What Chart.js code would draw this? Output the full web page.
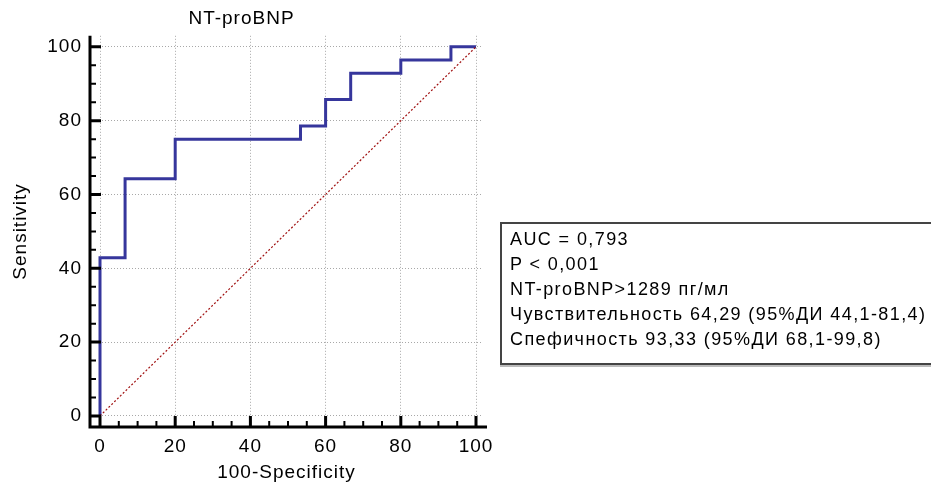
<!DOCTYPE html>
<html>
<head>
<meta charset="utf-8">
<script src="https://cdn.jsdelivr.net/npm/chart.js@4"></script>
<style>
    html, body { margin: 0; padding: 0; background: #fff; }
    #wrap { position: relative; width: 931px; height: 486px; overflow: hidden; }
    #stats {
        position: absolute; left: 500px; top: 222px; width: 440px; height: 136px;
        border: 2px solid #444; box-shadow: 0 2px 0 #bbb;
        padding: 3px 0 0 8px; box-sizing: content-box;
        font: 18px "Liberation Sans", Arial, sans-serif; line-height: 25px; color: #000;
        letter-spacing: 1.4px; white-space: nowrap;
    }
</style>
</head>
<body>
<div id="wrap">
    <canvas id="rocChart" width="931" height="486"></canvas>
    <div id="stats"></div>
</div>
<script>
// ROC points (100-Specificity, Sensitivity)
const fpr = [0, 0, 6.67, 20, 53.33, 60, 66.67, 80, 93.33, 100];
const tpr = [0, 42.86, 64.29, 75, 78.57, 85.71, 92.86, 96.43, 100, 100];

// reference diagonal
const diagX = [0, 100];
const diagY = [0, 100];

const xTicks = [0, 20, 40, 60, 80, 100];
const yTicks = [0, 20, 40, 60, 80, 100];

const statLines = [
    'AUC = 0,793',
    'P < 0,001',
    'NT-proBNP>1289 пг/мл',
    'Чувствительность 64,29 (95%ДИ 44,1-81,4)',
    'Спефичность 93,33 (95%ДИ 68,1-99,8)'
];

document.getElementById('stats').innerHTML = statLines.map(s => '<div>' + s + '</div>').join('');

const FONT = '"Liberation Sans", Arial, sans-serif';

// the original text is a bit wider than Arial, add some spacing
const spacingPlugin = {
    id: 'spacingPlugin',
    beforeLayout(chart) { chart.ctx.letterSpacing = '1px'; },
    beforeDraw(chart) { chart.ctx.letterSpacing = '1px'; }
};

// axis lines and major/minor ticks sit in the gap between axis and data
const axisPlugin = {
    id: 'axisPlugin',
    afterDraw(chart) {
        const ctx = chart.ctx;
        const area = chart.chartArea;
        const xs = chart.scales.x;
        const ys = chart.scales.y;
        ctx.save();
        ctx.strokeStyle = '#000';
        ctx.lineWidth = 3;
        ctx.beginPath();
        ctx.moveTo(area.left, area.top);
        ctx.lineTo(area.left, area.bottom + 1.5);
        ctx.moveTo(area.left - 1.5, area.bottom);
        ctx.lineTo(area.right + 4, area.bottom);
        ctx.stroke();
        for (let v = 0; v <= 100; v += 5) {
            const major = v % 20 === 0;
            const len = major ? 11 : 6;
            ctx.lineWidth = major ? 3 : 2;
            const px = xs.getPixelForValue(v);
            const py = ys.getPixelForValue(v);
            ctx.beginPath();
            ctx.moveTo(px, area.bottom);
            ctx.lineTo(px, area.bottom - len);
            ctx.moveTo(area.left, py);
            ctx.lineTo(area.left + len, py);
            ctx.stroke();
        }
        ctx.restore();
    }
};

const ctx = document.getElementById('rocChart').getContext('2d');

new Chart(ctx, {
    type: 'scatter',
    data: {
        datasets: [{
            label: 'diagonal',
            data: diagX.map((x, i) => ({ x: x, y: diagY[i] })),
            showLine: true,
            borderColor: '#a01010',
            borderWidth: 1.2,
            borderDash: [2, 2],
            pointRadius: 0
        }, {
            label: 'NT-proBNP',
            data: fpr.map((x, i) => ({ x: x, y: tpr[i] })),
            showLine: true,
            stepped: 'before',
            borderColor: '#36369c',
            borderWidth: 3,
            pointRadius: 0
        }]
    },
    options: {
        responsive: false,
        animation: false,
        layout: { padding: { left: 0, right: 448, top: 0, bottom: 0 } },
        plugins: {
            legend: { display: false },
            tooltip: { enabled: false },
            title: {
                display: true,
                text: 'NT-proBNP',
                color: '#000',
                font: { family: FONT, size: 19, weight: 'normal' },
                padding: { top: 7, bottom: 6 }
            }
        },
        scales: {
            x: {
                type: 'linear',
                min: -2.66,
                max: 101.86,
                afterBuildTicks: s => { s.ticks = xTicks.map(v => ({ value: v })); },
                afterFit: s => { s.height = 59; },
                border: { display: false, dash: [1, 2] },
                grid: { color: '#a8a8a8', drawTicks: false, lineWidth: 1 },
                ticks: { color: '#000', padding: 8, font: { family: FONT, size: 19 } },
                title: {
                    display: true, text: '100-Specificity', color: '#000',
                    font: { family: FONT, size: 19 }, padding: { top: 2, bottom: 2 }
                }
            },
            y: {
                type: 'linear',
                min: -3,
                max: 103,
                afterBuildTicks: s => { s.ticks = yTicks.map(v => ({ value: v })); },
                afterFit: s => { s.width = 90; },
                border: { display: false, dash: [1, 2] },
                grid: { color: '#a8a8a8', drawTicks: false, lineWidth: 1 },
                ticks: { color: '#000', padding: 8, font: { family: FONT, size: 19 } },
                title: {
                    display: true, text: 'Sensitivity', color: '#000',
                    font: { family: FONT, size: 19 }, padding: { top: 9, bottom: 4 }
                }
            }
        }
    },
    plugins: [spacingPlugin, axisPlugin]
});
</script>
</body>
</html>
